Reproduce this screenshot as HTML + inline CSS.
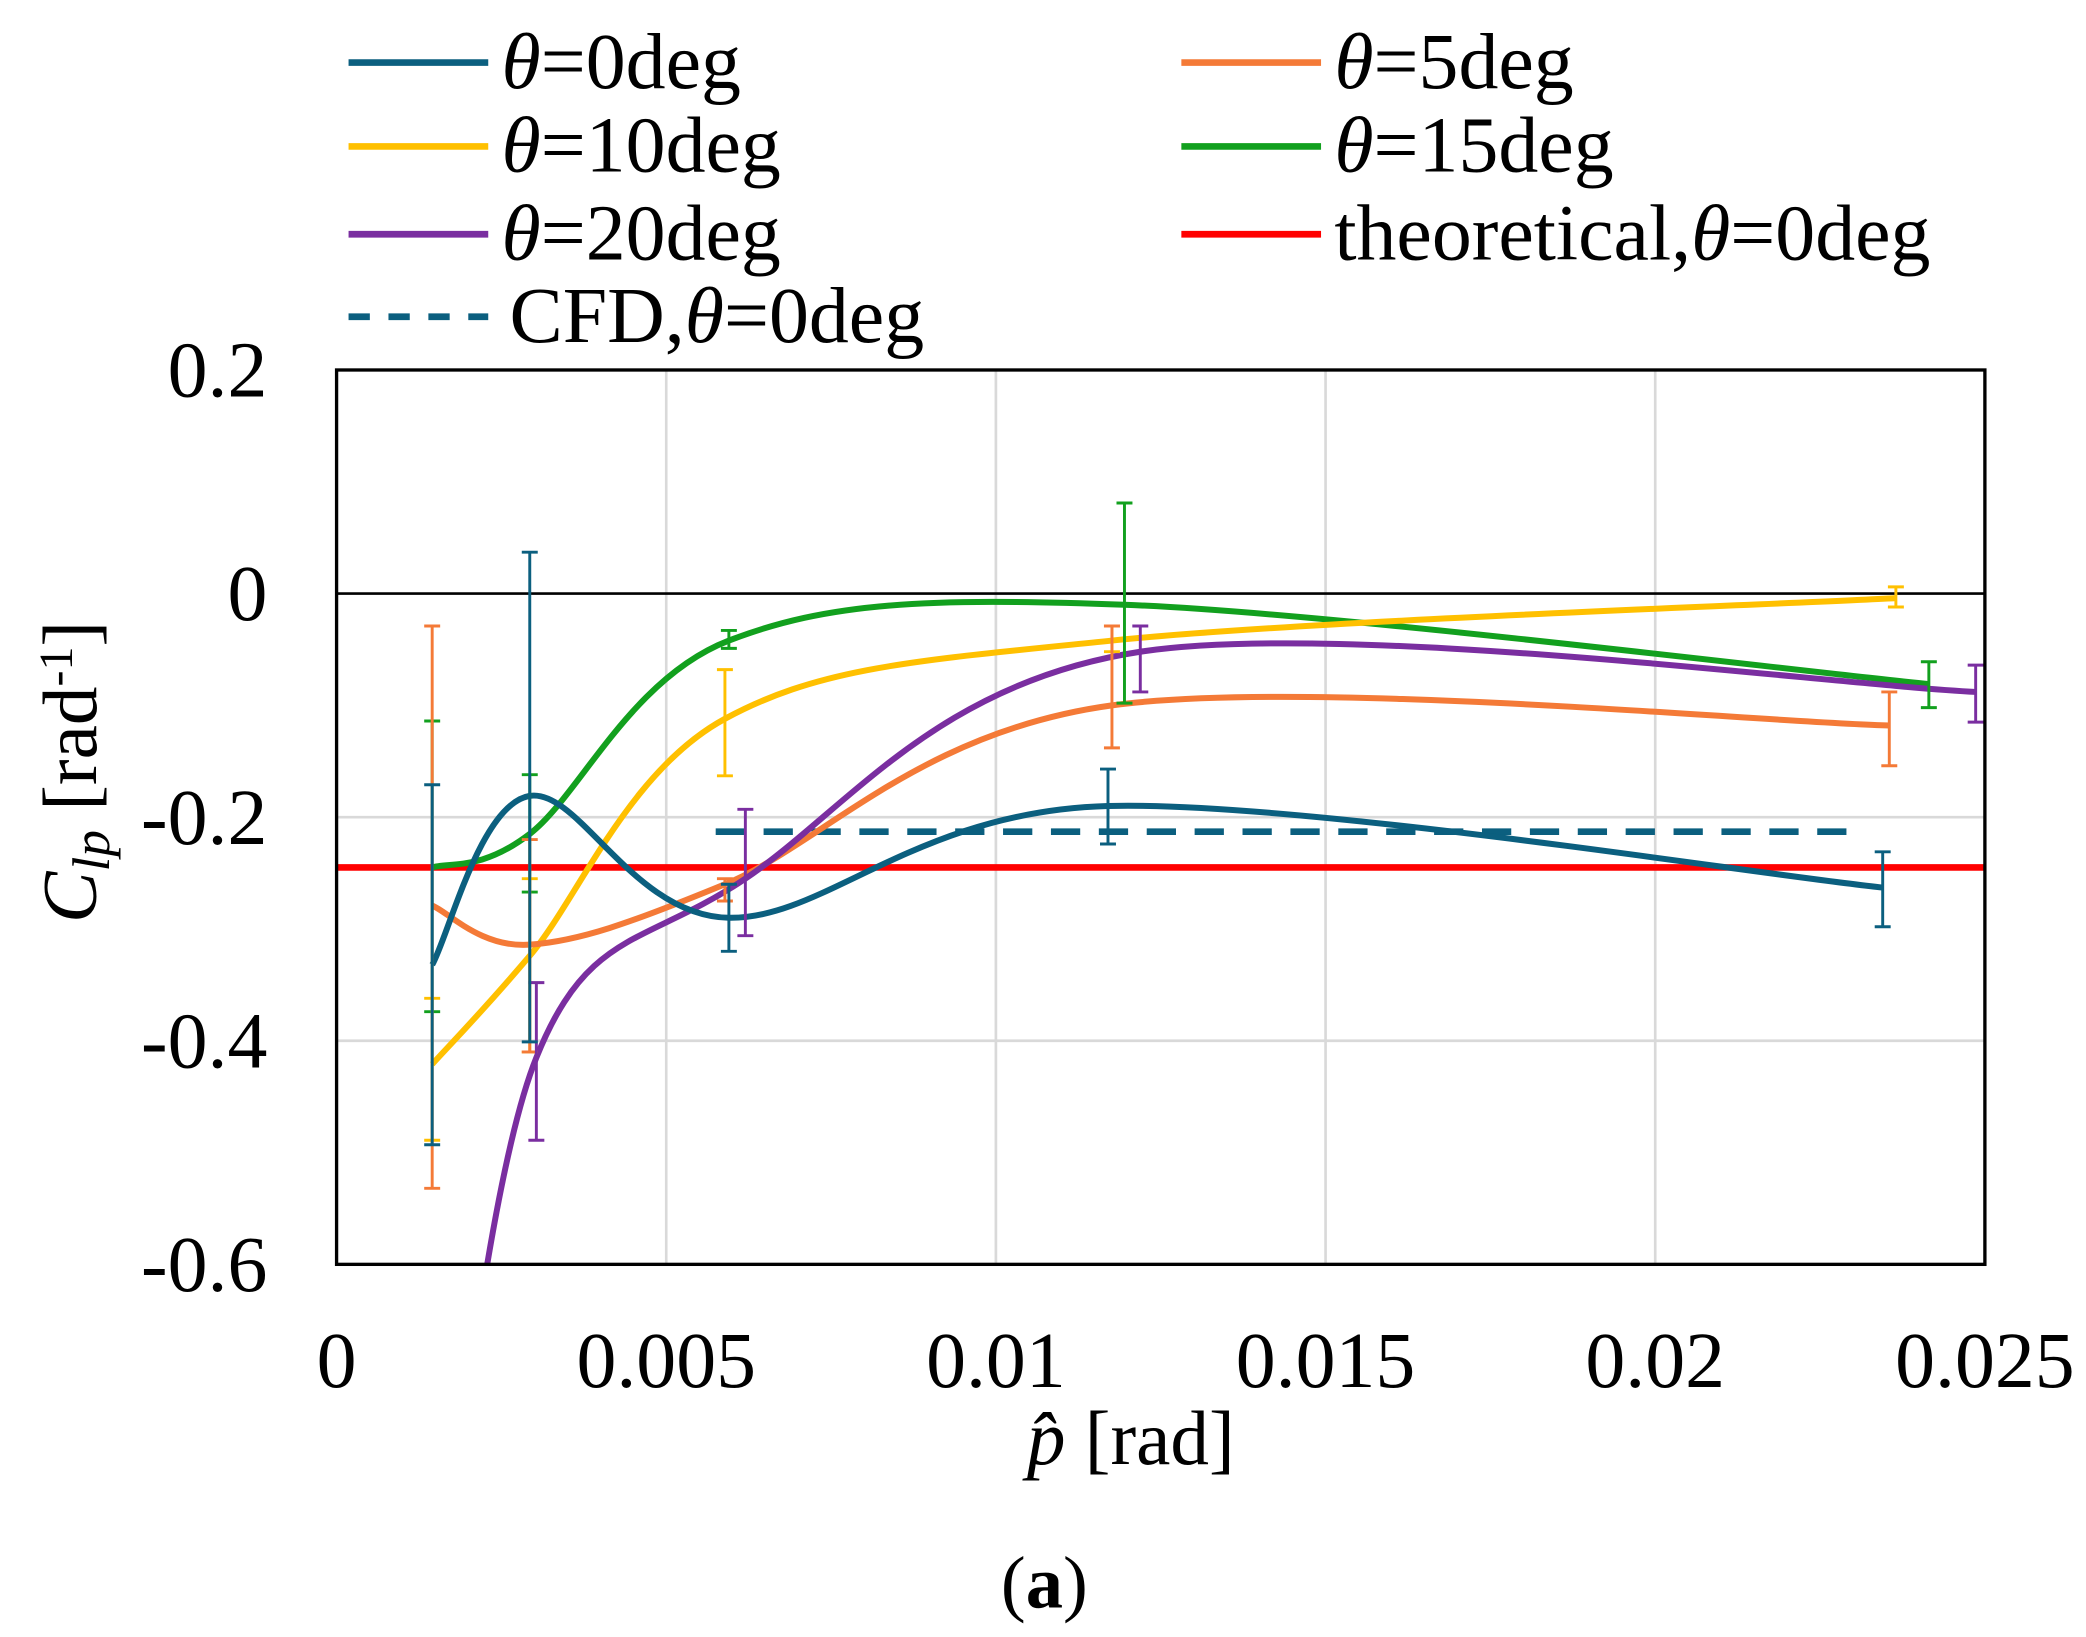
<!DOCTYPE html>
<html><head><meta charset="utf-8"><style>
html,body{margin:0;padding:0;background:#fff}
svg{display:block}
text{font-family:"Liberation Serif",serif;fill:#000}
</style></head><body>
<svg id="chart" width="2086" height="1637" viewBox="0 0 1568 1230" preserveAspectRatio="none" xmlns="http://www.w3.org/2000/svg">
<defs><clipPath id="plotclip"><rect x="253" y="278" width="1239" height="672"/></clipPath></defs>
<g id="grid"></g>
<g id="series" clip-path="url(#plotclip)"></g>
<g id="errs"></g>
<rect x="253" y="278" width="1239" height="672" fill="none" stroke="#000" stroke-width="2.5"/>
<g id="ticks"></g>
<text x="850" y="1100" text-anchor="middle" font-size="58"><tspan font-style="italic">p̂</tspan> [rad]</text>
<text transform="translate(72,580) rotate(-90)" text-anchor="middle" font-size="58"><tspan font-style="italic">C</tspan><tspan font-style="italic" font-size="40" dy="10">lp</tspan><tspan dy="-10">  [rad</tspan><tspan font-size="36" dy="-18">-1</tspan><tspan dy="18">]</tspan></text>
<text x="785" y="1208" text-anchor="middle" font-size="56">(<tspan font-weight="bold">a</tspan>)</text>
<g id="legend"></g>
</svg>
<script>
const xTicks=[0,0.005,0.01,0.015,0.02,0.025];
const xTickLabels=["0","0.005","0.01","0.015","0.02","0.025"];
const yTicks=[0.2,0,-0.2,-0.4,-0.6];
const yTickLabels=["0.2","0","-0.2","-0.4","-0.6"];
const seriesNames=["θ=0deg","θ=5deg","θ=10deg","θ=15deg","θ=20deg"];
const seriesColors=["#0b5f7f","#f47a37","#ffc000","#12a01e","#7a2ea0"];
const x0=[0.00145,0.00293,0.00595,0.0117,0.02345];
const y0=[-0.332,-0.181,-0.29,-0.19,-0.263];
const lo0=[-0.493,-0.401,-0.32,-0.224,-0.298];
const hi0=[-0.171,0.037,-0.26,-0.157,-0.231];
const x5=[0.00145,0.00293,0.00589,0.01176,0.02355];
const y5=[-0.279,-0.314,-0.26,-0.1,-0.118];
const lo5=[-0.532,-0.41,-0.275,-0.138,-0.154];
const hi5=[-0.029,-0.22,-0.255,-0.029,-0.088];
const x10=[0.00145,0.00293,0.00589,0.01176,0.02365];
const y10=[-0.421,-0.324,-0.112,-0.042,-0.004];
const lo10=[-0.489,-0.41,-0.163,-0.052,-0.012];
const hi10=[-0.362,-0.255,-0.068,-0.029,0.006];
const x15=[0.00145,0.00293,0.00595,0.01195,0.02415];
const y15=[-0.245,-0.215,-0.042,-0.01,-0.081];
const lo15=[-0.374,-0.267,-0.049,-0.098,-0.102];
const hi15=[-0.114,-0.162,-0.033,0.081,-0.061];
const x20=[0.00145,0.00303,0.0062,0.01219,0.02486];
const y20=[-0.95,-0.415,-0.255,-0.052,-0.088];
const lo20=[null,-0.489,-0.306,-0.088,-0.115];
const hi20=[null,-0.348,-0.193,-0.029,-0.064];
const theoretical=-0.245;
const cfdValue=-0.213;
const cfdRange=[0.00575,0.0229];

const X=v=>253+v/0.025*1239;
const Y=v=>446-v*840;
const NS="http://www.w3.org/2000/svg";
function mk(tag,attrs,parent){const e=document.createElementNS(NS,tag);for(const k in attrs)e.setAttribute(k,attrs[k]);parent.appendChild(e);return e;}
const grid=document.getElementById('grid'),ticks=document.getElementById('ticks');
xTicks.forEach((t,i)=>{
  if(t>0&&t<0.025){const l=mk('line',{x1:X(t),x2:X(t),y1:278,y2:950,stroke:'#d9d9d9','stroke-width':2},grid);
  
  }
  const tx=mk('text',{x:X(t),y:1042,'text-anchor':'middle','font-size':60},ticks);tx.textContent=xTickLabels[i];
  
  
});
yTicks.forEach((t,i)=>{
  if(t<0.2&&t>-0.6){const l=mk('line',{x1:253,x2:1492,y1:Y(t),y2:Y(t),stroke:t===0?'#000':'#d9d9d9','stroke-width':2},grid);
  
  }
  const tx=mk('text',{x:201,y:Y(t)+20,'text-anchor':'end','font-size':60},ticks);tx.textContent=yTickLabels[i];
  
  
});
function smooth(xs,ys){
  const P=xs.map((x,i)=>[X(x),Y(ys[i])]);const n=P.length;
  let d='M'+P[0][0].toFixed(1)+','+P[0][1].toFixed(1);
  for(let i=0;i<n-1;i++){
    const p0=P[i>0?i-1:i],p1=P[i],p2=P[i+1],p3=P[i+2<n?i+2:i+1];
    const c1=[p1[0]+(p2[0]-p0[0])/6,p1[1]+(p2[1]-p0[1])/6];
    const c2=[p2[0]-(p3[0]-p1[0])/6,p2[1]-(p3[1]-p1[1])/6];
    d+='C'+c1.map(v=>v.toFixed(1))+' '+c2.map(v=>v.toFixed(1))+' '+p2.map(v=>v.toFixed(1));
  }
  return d;
}
const ser=document.getElementById('series'),errs=document.getElementById('errs');
const allX=[x0,x5,x10,x15,x20],allY=[y0,y5,y10,y15,y20],allLo=[lo0,lo5,lo10,lo15,lo20],allHi=[hi0,hi5,hi10,hi15,hi20];
const tl=mk('line',{x1:250,x2:1492,y1:Y(theoretical),y2:Y(theoretical),stroke:'#ff0000','stroke-width':5},ser);


const cl=mk('line',{x1:X(cfdRange[0]),x2:X(cfdRange[1]),y1:Y(cfdValue),y2:Y(cfdValue),stroke:'#0b5f7f','stroke-width':5,'stroke-dasharray':'22,14'},ser);


[3,2,1,4,0].forEach(s=>{
  const p=mk('path',{d:smooth(allX[s],allY[s]),fill:'none',stroke:seriesColors[s],'stroke-width':4.5},ser);
  
  
  allX[s].forEach((xv,i)=>{
    if(allLo[s][i]===null)return;
    const g=mk('path',{d:`M${X(xv)},${Y(allHi[s][i])}V${Y(allLo[s][i])}M${X(xv)-6},${Y(allHi[s][i])}h12M${X(xv)-6},${Y(allLo[s][i])}h12`,stroke:seriesColors[s],'stroke-width':2.2,fill:'none'},errs);
    
    
  });
});
const leg=document.getElementById('legend');
const legItems=[[262,47,0,'θ=0deg'],[888,47,1,'θ=5deg'],[262,110,2,'θ=10deg'],[888,110,3,'θ=15deg'],[262,176,4,'θ=20deg'],[888,176,'red','theoretical,θ=0deg'],[262,238,'cfd','CFD,θ=0deg']];
legItems.forEach(it=>{
  const [lx,ly,s,label]=it;
  const col=s==='red'?'#ff0000':s==='cfd'?'#0b5f7f':seriesColors[s];
  const ln=mk('line',{x1:lx,x2:lx+105,y1:ly,y2:ly,stroke:col,'stroke-width':5},leg);
  if(s==='cfd')ln.setAttribute('stroke-dasharray','16,14');
  
  
  const tx=mk('text',{x:lx+(s==='cfd'?121:115),y:ly+19,'font-size':60},leg);
  const parts=label.split('θ');
  tx.appendChild(document.createTextNode(parts[0]));
  const th=mk('tspan',{'font-style':'italic'},tx);th.textContent='θ';
  tx.appendChild(document.createTextNode(parts[1]));
  
  
});
</script>
</body></html>
